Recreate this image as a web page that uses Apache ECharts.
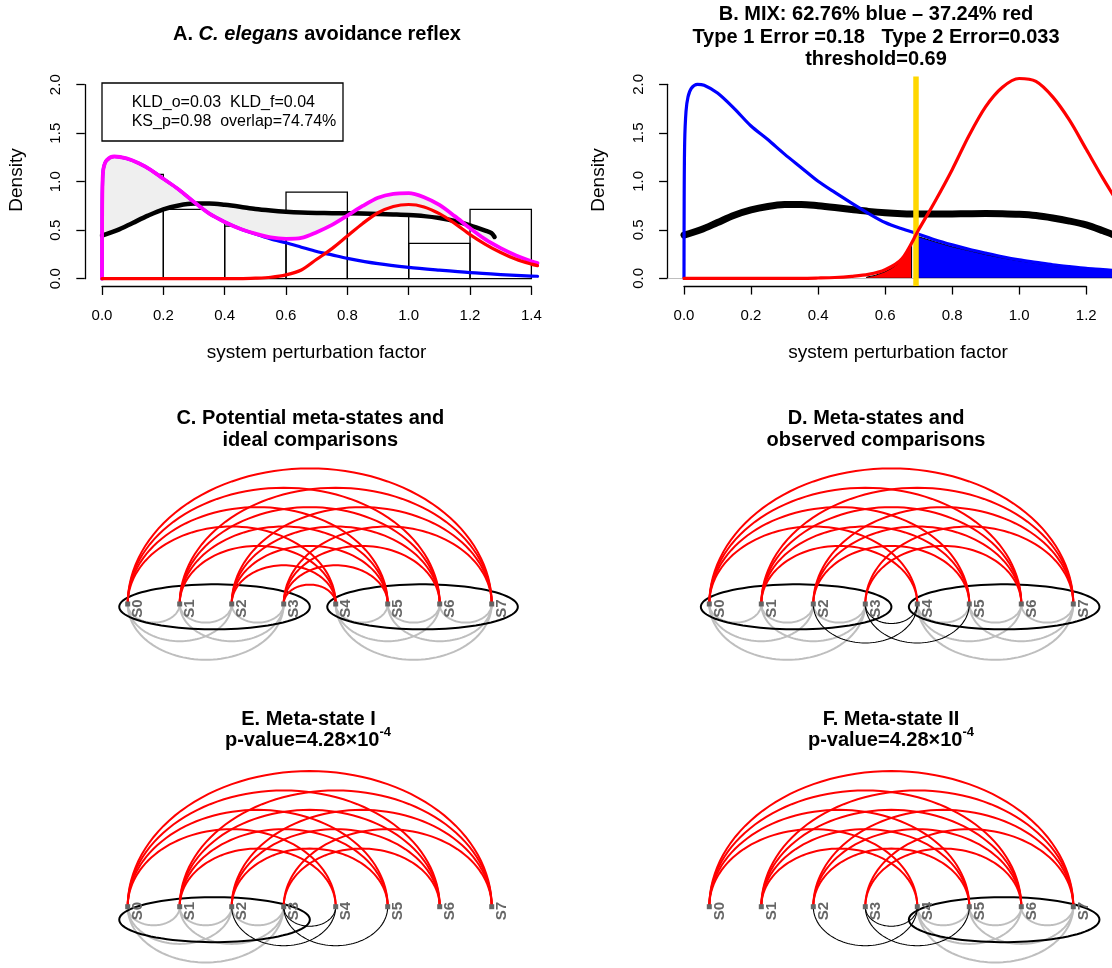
<!DOCTYPE html>
<html lang="en">
<head>
<meta charset="UTF-8">
<title>Meta-state comparisons</title>
<style>
  body { margin: 0; padding: 0; background: #ffffff; }
  #main { width: 1112px; height: 968px; }
</style>
</head>
<body>
<div id="main"></div>
<script src="https://cdn.jsdelivr.net/npm/echarts@6.0.0/dist/echarts.min.js"></script>
<script>
// ---------------- panels A / B : densities ----------------
var xTicksA = [0, 0.2, 0.4, 0.6, 0.8, 1.0, 1.2, 1.4];
var xTicksB = [0, 0.2, 0.4, 0.6, 0.8, 1.0, 1.2];
var yTicks = [0, 0.5, 1.0, 1.5, 2.0];

var histBreaks = [0, 0.2, 0.4, 0.6, 0.8, 1.0, 1.2, 1.4];
var histDensity = [1.076, 0.715, 0.543, 0.893, 0.66, 0.364, 0.715];

var legendLinesA = ['KLD_o=0.03  KLD_f=0.04', 'KS_p=0.98  overlap=74.74%'];

// observed kde (black)
var observedA = [[0, 0.445], [0.05, 0.5], [0.1, 0.575], [0.15, 0.65], [0.2, 0.715], [0.25, 0.755], [0.3, 0.775],
  [0.35, 0.775], [0.4, 0.762], [0.45, 0.742], [0.5, 0.718], [0.55, 0.702], [0.6, 0.69], [0.65, 0.682], [0.7, 0.678],
  [0.75, 0.676], [0.8, 0.675], [0.85, 0.672], [0.9, 0.667], [0.95, 0.662], [1.0, 0.656], [1.05, 0.645], [1.1, 0.625],
  [1.15, 0.595], [1.2, 0.55], [1.25, 0.495], [1.27, 0.47], [1.28, 0.43]];
// meta-state I (blue)
var meta1A = [[0, 0], [0.0005, 0.7], [0.002, 1.02], [0.005, 1.14], [0.015, 1.22], [0.04, 1.26], [0.08, 1.24],
  [0.12, 1.19], [0.16, 1.12], [0.2, 1.03], [0.25, 0.92], [0.3, 0.79], [0.35, 0.67], [0.4, 0.585], [0.45, 0.515],
  [0.5, 0.46], [0.55, 0.41], [0.6, 0.37], [0.65, 0.325], [0.7, 0.28], [0.75, 0.245], [0.8, 0.21], [0.9, 0.155],
  [1.0, 0.117], [1.1, 0.088], [1.2, 0.062], [1.3, 0.043], [1.4, 0.027], [1.42, 0.025]];
// meta-state II (red)
var meta2A = [[0, 0], [0.45, 0], [0.5, 0.005], [0.55, 0.015], [0.6, 0.04], [0.65, 0.09], [0.7, 0.2], [0.75, 0.31],
  [0.8, 0.44], [0.85, 0.57], [0.9, 0.68], [0.95, 0.745], [1.0, 0.765], [1.05, 0.74], [1.1, 0.67], [1.15, 0.57],
  [1.2, 0.455], [1.25, 0.355], [1.3, 0.27], [1.35, 0.2], [1.4, 0.15], [1.42, 0.135]];
// fitted mixture (magenta)
var mixA = [[0, 0], [0.0005, 0.7], [0.002, 1.02], [0.005, 1.14], [0.015, 1.22], [0.04, 1.26], [0.08, 1.24],
  [0.12, 1.19], [0.16, 1.12], [0.2, 1.03], [0.25, 0.92], [0.3, 0.79], [0.35, 0.67], [0.4, 0.585], [0.45, 0.515],
  [0.5, 0.465], [0.55, 0.425], [0.6, 0.41], [0.65, 0.42], [0.7, 0.48], [0.75, 0.555], [0.8, 0.65], [0.85, 0.75],
  [0.9, 0.835], [0.95, 0.875], [1.0, 0.882], [1.05, 0.84], [1.1, 0.76], [1.15, 0.645], [1.2, 0.52], [1.25, 0.405],
  [1.3, 0.315], [1.35, 0.24], [1.4, 0.18], [1.42, 0.16]];

var observedB = [[0, 0.445], [0.05, 0.5], [0.1, 0.575], [0.15, 0.65], [0.2, 0.705], [0.25, 0.74], [0.3, 0.76],
  [0.35, 0.762], [0.4, 0.748], [0.45, 0.73], [0.5, 0.71], [0.55, 0.69], [0.6, 0.675], [0.65, 0.666], [0.7, 0.662],
  [0.75, 0.662], [0.8, 0.663], [0.85, 0.666], [0.9, 0.668], [0.95, 0.666], [1.0, 0.66], [1.05, 0.647], [1.1, 0.622],
  [1.15, 0.59], [1.2, 0.55], [1.25, 0.49], [1.28, 0.45]];
var meta1B = [[0, 0], [0.0005, 0.8], [0.002, 1.4], [0.006, 1.72], [0.012, 1.87], [0.022, 1.96], [0.04, 2.0],
  [0.06, 1.99], [0.1, 1.91], [0.15, 1.75], [0.2, 1.57], [0.25, 1.43], [0.3, 1.28], [0.35, 1.14], [0.4, 1.0],
  [0.45, 0.885], [0.5, 0.775], [0.55, 0.67], [0.6, 0.575], [0.65, 0.51], [0.7, 0.455], [0.75, 0.395], [0.8, 0.345],
  [0.85, 0.3], [0.9, 0.26], [0.95, 0.222], [1.0, 0.19], [1.05, 0.165], [1.1, 0.14], [1.15, 0.12], [1.2, 0.102],
  [1.25, 0.09], [1.28, 0.08]];
var meta2B = [[0, 0], [0.35, 0], [0.4, 0.003], [0.45, 0.008], [0.5, 0.02], [0.55, 0.04], [0.6, 0.088], [0.65, 0.2],
  [0.7, 0.5], [0.75, 0.8], [0.8, 1.12], [0.85, 1.47], [0.9, 1.77], [0.95, 1.97], [1.0, 2.06], [1.05, 2.03],
  [1.1, 1.87], [1.15, 1.63], [1.2, 1.33], [1.25, 1.03], [1.28, 0.86]];
// shaded error tails
var redTailB = [[0.545, 0.012], [0.57, 0.03], [0.6, 0.068], [0.62, 0.105], [0.64, 0.155], [0.66, 0.235], [0.679, 0.36]];
var blueTailB = [[0.698, 0.43], [0.75, 0.375], [0.8, 0.325], [0.85, 0.285], [0.9, 0.245], [0.95, 0.21], [1.0, 0.18],
  [1.05, 0.155], [1.1, 0.133], [1.15, 0.115], [1.2, 0.098], [1.25, 0.085], [1.28, 0.077]];
var threshold = 0.69;

// ---------------- panels C-F : arc diagrams ----------------
var states = ['S0', 'S1', 'S2', 'S3', 'S4', 'S5', 'S6', 'S7'];
var metaI = [0, 1, 2, 3];
var metaII = [4, 5, 6, 7];
var idealPairs = [[0, 4], [0, 5], [0, 6], [0, 7], [1, 4], [1, 5], [1, 6], [1, 7],
  [2, 4], [2, 5], [2, 6], [2, 7], [3, 4], [3, 5], [3, 6], [3, 7]];
var observedPairs = [[0, 4], [0, 5], [0, 6], [0, 7], [1, 4], [1, 5], [1, 6], [1, 7],
  [2, 5], [2, 6], [2, 7], [3, 6], [3, 7]];
var missedPairs = [[2, 4], [3, 4], [3, 5]];
var withinI = [[0, 1], [0, 2], [0, 3], [1, 2], [1, 3], [2, 3]];
var withinII = [[4, 5], [4, 6], [4, 7], [5, 6], [5, 7], [6, 7]];

// ---------------- layout helpers ----------------
var FONT = '"Liberation Sans", Arial, Helvetica, sans-serif';
var grids = [], xAxes = [], yAxes = [], series = [], graphics = [];

function addGrid(rect, xa, ya) {
  var gi = grids.length;
  grids.push({ left: rect.left, top: rect.top, width: rect.width, height: rect.height,
    containLabel: false, outerBoundsMode: 'none' });
  xAxes.push(Object.assign({ gridIndex: gi, type: 'value', show: false, splitLine: { show: false } }, xa));
  yAxes.push(Object.assign({ gridIndex: gi, type: 'value', show: false, splitLine: { show: false } }, ya));
  return gi;
}

function tickAxis(ticks, rotate, margin) {
  return {
    show: true, min: ticks[0], max: ticks[ticks.length - 1], interval: ticks[1] - ticks[0],
    axisLine: { show: true, lineStyle: { color: '#000', width: 1.3 } },
    axisTick: { show: true, length: 8.5, lineStyle: { color: '#000', width: 1.3 } },
    axisLabel: { show: true, color: '#000', fontSize: 15, fontFamily: FONT, rotate: rotate, margin: margin,
      formatter: function (v) { return v.toFixed(1); } },
    splitLine: { show: false }
  };
}

// data grid + an x axis over the tick range + a y axis over the tick range (R style)
function densityPanel(f, xTicks) {
  var top = f.y0 - f.ymax * f.ky, height = (f.ymax - f.ymin) * f.ky;
  var left = f.x0 + f.xmin * f.kx, width = (f.xmax - f.xmin) * f.kx;
  var gi = addGrid({ left: left, top: top, width: width, height: height },
    { min: f.xmin, max: f.xmax }, { min: f.ymin, max: f.ymax });
  var xl = xTicks[xTicks.length - 1];
  addGrid({ left: f.x0 + xTicks[0] * f.kx, top: top, width: (xl - xTicks[0]) * f.kx, height: height },
    tickAxis(xTicks, 0, 22), { min: 0, max: 1 });
  var yl = yTicks[yTicks.length - 1];
  addGrid({ left: left, top: f.y0 - yl * f.ky, width: width, height: (yl - yTicks[0]) * f.ky },
    { min: 0, max: 1 }, tickAxis(yTicks, 90, 21));
  return gi;
}

function curve(gi, data, color, width, z) {
  return {
    type: 'line', xAxisIndex: gi, yAxisIndex: gi, data: data, symbol: 'none', showSymbol: false,
    smooth: 0.3, z: z, silent: true,
    lineStyle: { color: color, width: width, cap: 'round', join: 'round' }
  };
}

function tailPolygon(gi, top, color, z) {
  return {
    type: 'custom', xAxisIndex: gi, yAxisIndex: gi, data: [[top[0][0], 0]], z: z, silent: true,
    renderItem: function (params, api) {
      var pts = [api.coord([top[0][0], 0])];
      top.forEach(function (p) { pts.push(api.coord(p)); });
      pts.push(api.coord([top[top.length - 1][0], 0]));
      return { type: 'polygon', shape: { points: pts }, style: { fill: color, stroke: '#000', lineWidth: 1 } };
    }
  };
}

function text(x, y, str, font, extra) {
  var el = { type: 'text', x: x, y: y, silent: true, z: 100,
    style: { text: str, font: font, fill: '#000', textAlign: 'center', textVerticalAlign: 'middle',
      align: 'center', verticalAlign: 'middle' } };
  if (extra) {
    if (extra.style) Object.assign(el.style, extra.style);
    if (extra.rotation) el.rotation = extra.rotation;
  }
  graphics.push(el);
}

var BOLD20 = 'bold 20px ' + FONT;
var LAB19 = '19px ' + FONT;

// ---------------- panel A ----------------
var gA = densityPanel({ x0: 102, kx: 306.7, y0: 278.7, ky: 97, xmin: -0.056, xmax: 1.456, ymin: -0.08, ymax: 2.08 }, xTicksA);

series.push({
  type: 'custom', xAxisIndex: gA, yAxisIndex: gA, z: 1, silent: true,
  data: histDensity.map(function (h, i) { return [histBreaks[i], histBreaks[i + 1], h]; }),
  renderItem: function (params, api) {
    var p0 = api.coord([api.value(0), 0]);
    var p1 = api.coord([api.value(1), api.value(2)]);
    return { type: 'rect', shape: { x: p0[0], y: p1[1], width: p1[0] - p0[0], height: p0[1] - p1[1] },
      style: { fill: 'none', stroke: '#000', lineWidth: 1.3 } };
  }
});

series.push({
  type: 'custom', xAxisIndex: gA, yAxisIndex: gA, z: 2, silent: true, data: [[0, 0]],
  renderItem: function (params, api) {
    var xEnd = observedA[observedA.length - 1][0];
    var pts = [];
    mixA.forEach(function (p) { if (p[0] <= xEnd && p[1] > 0) pts.push(api.coord(p)); });
    for (var k = observedA.length - 1; k >= 0; k--) pts.push(api.coord(observedA[k]));
    return { type: 'polygon', shape: { points: pts, smooth: 0.25 }, style: { fill: '#EFEFEF', stroke: 'none' } };
  }
});

series.push(curve(gA, observedA, '#000000', 4.5, 3));
series.push(curve(gA, meta1A, '#0000FF', 3.2, 4));
series.push(curve(gA, mixA, '#FF00FF', 3.8, 5));
series.push(curve(gA, meta2A, '#FF0000', 3.2, 6));

graphics.push({ type: 'rect', silent: true, z: 90, shape: { x: 102, y: 83, width: 241, height: 58 },
  style: { fill: 'none', stroke: '#000', lineWidth: 1.3 } });
legendLinesA.forEach(function (s, i) {
  text(131.7, 103 + i * 19, s, '16px ' + FONT, { style: { textAlign: 'left', align: 'left' } });
});

text(317, 34, '{b|A. }{bi|C. elegans}{b| avoidance reflex}', BOLD20,
  { style: { rich: { b: { font: BOLD20 }, bi: { font: 'italic bold 20px ' + FONT } } } });
text(316.5, 353, 'system perturbation factor', LAB19);
text(17, 180, 'Density', LAB19, { rotation: Math.PI / 2 });

// ---------------- panel B ----------------
var gB = densityPanel({ x0: 684, kx: 335.2, y0: 278.3, ky: 97, xmin: -0.049, xmax: 1.277, ymin: -0.08, ymax: 2.08 }, xTicksB);

series.push(tailPolygon(gB, blueTailB, '#0000FF', 1));
series.push(tailPolygon(gB, redTailB, '#FF0000', 2));
var obsB = curve(gB, observedB, '#000000', 7, 3);
obsB.markLine = { silent: true, symbol: 'none', animation: false, label: { show: false },
  lineStyle: { color: '#BEBEBE', width: 1, type: 'solid' }, data: [{ yAxis: 0 }] };
series.push(obsB);
series.push(curve(gB, meta1B, '#0000FF', 3.2, 4));
series.push(curve(gB, meta2B, '#FF0000', 3.2, 5));
series.push({
  type: 'line', xAxisIndex: gB, yAxisIndex: gB, data: [], z: 6, silent: true,
  markLine: { silent: true, symbol: 'none', animation: false, label: { show: false },
    lineStyle: { color: '#FFD700', width: 5.5, type: 'solid' }, data: [{ xAxis: threshold }] }
});

text(876, 37.3, 'B. MIX: 62.76% blue \u2013 37.24% red\nType 1 Error =0.18   Type 2 Error=0.033\nthreshold=0.69',
  BOLD20, { style: { lineHeight: 22.5 } });
text(898, 353, 'system perturbation factor', LAB19);
text(598.3, 180, 'Density', LAB19, { rotation: Math.PI / 2 });

// ---------------- arc diagrams ----------------
var U = 52;            // px between neighbouring states
var UP = 0.745;        // arc height / half span (above)
var DOWN_GRAY = 0.715; // arc depth / half span (gray, below)
var DOWN_BLACK = 0.75; // arc depth / half span (black, below)

function arcSeries(gi, pairs, dir, ratio, color, width, z) {
  return {
    type: 'custom', xAxisIndex: gi, yAxisIndex: gi, data: pairs, z: z, silent: true,
    renderItem: function (params, api) {
      var a = api.value(0), b = api.value(1);
      var c = (a + b) / 2, r = Math.abs(b - a) / 2, pts = [];
      for (var k = 0; k <= 64; k++) {
        var t = Math.PI * k / 64;
        pts.push(api.coord([c - r * Math.cos(t), dir * ratio * r * Math.sin(t)]));
      }
      return { type: 'polyline', shape: { points: pts }, style: { stroke: color, lineWidth: width, fill: 'none' } };
    }
  };
}

function arcPanel(p) {
  var gi = addGrid({ left: p.x0 - U, top: p.y0 - 3.5 * U, width: 10 * U, height: 5 * U },
    { min: -1, max: 9 }, { min: -1.5, max: 3.5 });
  series.push(arcSeries(gi, p.gray, -1, DOWN_GRAY, '#BEBEBE', 2, 1));
  if (p.black.length) series.push(arcSeries(gi, p.black, -1, DOWN_BLACK, '#000000', 1.1, 2));
  series.push({
    type: 'custom', xAxisIndex: gi, yAxisIndex: gi, z: 3, silent: true,
    data: p.groups.map(function (g) { return [g[0], g[g.length - 1]]; }),
    renderItem: function (params, api) {
      var cx = (api.value(0) + api.value(1)) / 2 + 0.17, cy = -p.drop / U;
      var rx = 95.3 / U, ry = 22.5 / U, pts = [];
      for (var k = 0; k < 90; k++) {
        var t = 2 * Math.PI * k / 90;
        pts.push(api.coord([cx + rx * Math.cos(t), cy + ry * Math.sin(t)]));
      }
      return { type: 'polygon', shape: { points: pts }, style: { fill: 'none', stroke: '#000', lineWidth: 2 } };
    }
  });
  series.push(arcSeries(gi, p.red, 1, UP, '#FF0000', 2, 4));
  series.push({
    type: 'custom', xAxisIndex: gi, yAxisIndex: gi, z: 5, silent: true,
    data: states.map(function (s, i) { return [i, 0]; }),
    renderItem: function (params, api) {
      var q = api.coord([api.value(0), api.value(1)]);
      return { type: 'group', children: [
        { type: 'rect', shape: { x: q[0] - 2.5, y: q[1] - 2.5, width: 5, height: 5 }, style: { fill: '#666666' } },
        { type: 'text', x: q[0] + 10.5, y: q[1] + 4.5, rotation: Math.PI / 2,
          style: { text: states[params.dataIndex], fill: '#666666', font: 'bold 15px ' + FONT,
            align: 'center', verticalAlign: 'middle' } }
      ] };
    }
  });
}

arcPanel({ x0: 127.7, y0: 604, red: idealPairs, gray: withinI.concat(withinII), black: [], groups: [metaI, metaII], drop: 2.8 });
arcPanel({ x0: 709.3, y0: 604, red: observedPairs, gray: withinI.concat(withinII), black: missedPairs, groups: [metaI, metaII], drop: 2.8 });
arcPanel({ x0: 127.7, y0: 906.7, red: observedPairs, gray: withinI, black: missedPairs, groups: [metaI], drop: 13 });
arcPanel({ x0: 709.3, y0: 906.7, red: observedPairs, gray: withinII, black: missedPairs, groups: [metaII], drop: 13 });

text(310.3, 429, 'C. Potential meta-states and\nideal comparisons', BOLD20, { style: { lineHeight: 22 } });
text(876, 429, 'D. Meta-states and\nobserved comparisons', BOLD20, { style: { lineHeight: 22 } });
var supRich = { m: { font: BOLD20, lineHeight: 28 }, s: { font: 'bold 13px ' + FONT, lineHeight: 14, verticalAlign: 'top' } };
text(308.5, 719, 'E. Meta-state I', BOLD20);
text(308, 740, '{m|p-value=4.28\u00d710}{s|-4}', BOLD20, { style: { rich: supRich } });
text(891, 719, 'F. Meta-state II', BOLD20);
text(891, 740, '{m|p-value=4.28\u00d710}{s|-4}', BOLD20, { style: { rich: supRich } });

// ---------------- render ----------------
var chart = echarts.init(document.getElementById('main'));
chart.setOption({
  animation: false,
  backgroundColor: '#ffffff',
  textStyle: { fontFamily: FONT },
  grid: grids,
  xAxis: xAxes,
  yAxis: yAxes,
  series: series,
  graphic: { elements: graphics }
});
</script>
</body>
</html>
